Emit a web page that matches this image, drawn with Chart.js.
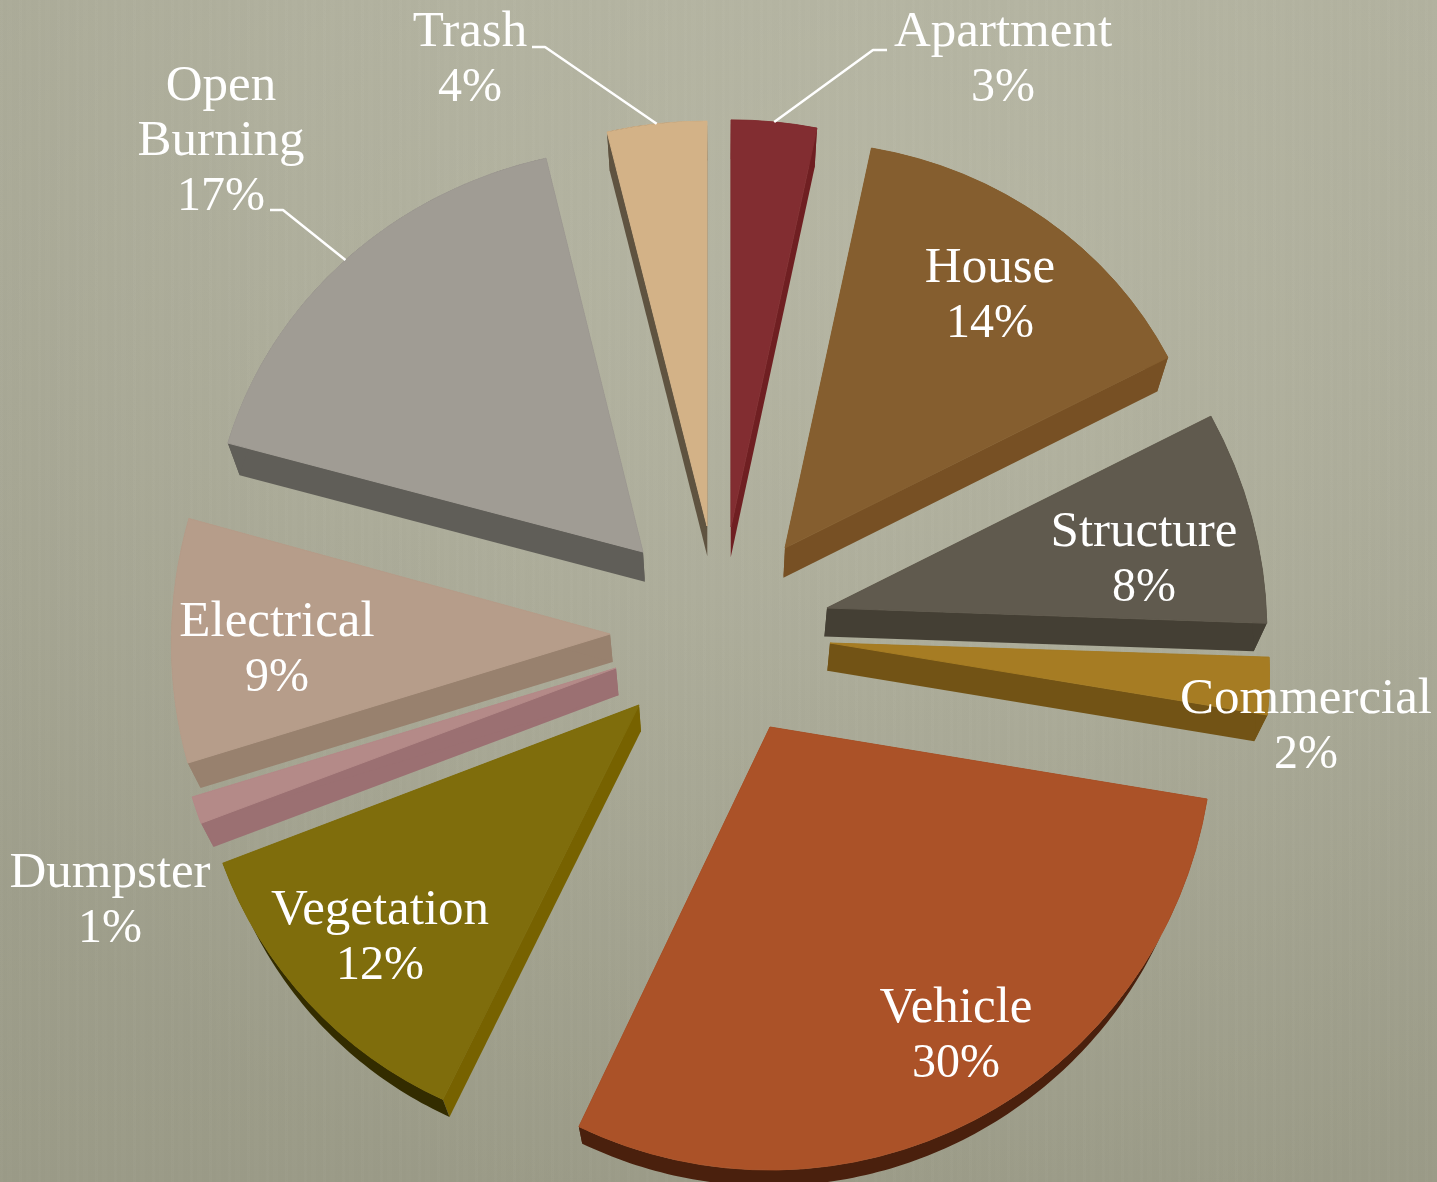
<!DOCTYPE html>
<html>
<head>
<meta charset="utf-8">
<title>Fire types</title>
<script src="https://cdn.jsdelivr.net/npm/chart.js@4"></script>
<style>
html,body{margin:0;padding:0;width:1437px;height:1182px;overflow:hidden}
body{
  background:
    repeating-linear-gradient(90deg,rgba(255,255,255,.009) 0 3px,rgba(0,0,0,.007) 3px 7px,rgba(255,255,255,.005) 7px 12px,rgba(0,0,0,.008) 12px 19px),
    radial-gradient(ellipse 1100px 1000px at 62% 22%,rgba(188,188,170,.55) 0%,rgba(175,175,158,.25) 55%,rgba(150,150,132,.35) 100%),
    linear-gradient(180deg,#b3b3a0 0%,#aaaa97 50%,#9e9e8a 100%);
}
canvas{display:block}
</style>
</head>
<body>
<canvas id="c" width="1437" height="1182"></canvas>
<script>
// Data, clockwise from 12 o'clock
const categories = ['Apartment','House','Structure','Commercial','Vehicle','Vegetation','Dumpster','Electrical','Open Burning','Trash'];
const sliceValues = [3.2,14.4,7.8,2.2,29.5,12.2,1.0,8.9,17.0,3.8];

// Styling
const topColors  = ['#822d31','#855e2f','#605a4e','#a67c23','#ab5228','#7f6d0c','#b48a88','#b69d8a','#a09c94','#d3b287'];
const sideColors = ['#6f1f22','#775024','#443f34','#725315','#4a200d','#776200','#9b7072','#98816e','#605e58','#5f5340'];
const rimColors  = ['#6f1f22','#775024','#443f34','#725315','#4a200d','#332c00','#9b7072','#98816e','#605e58','#5f5340'];
// Explosion of each slice away from the pie centre
const explodeX = [11,65,107,110,50,-81,-104,-110,-77,-13];
const explodeY = [-113,-92,-32,3,87,65,28,-6,-88,-114];
// Perspective foreshortening of each slice's top face: [xx, xy, yx, yy]
const tilt = [
  [.972,0,0,.919],[.966,-.0023,-.0212,.917],[.992,.045,.0095,.984],[.99,.065,.008,.951],[1,0,0,1],
  [.998,-.0135,-.0144,.98],[1,0,0,1],[.99,-.02,0,1],[.974,-.0117,.008,.913],[.954,0,.006,.914]
];
// Label placement: [centre x, first baseline y]
const labelPlace = [[1003,46],[990,282],[1144,546],[1306,713],[956,1022],[380,924],[110,887],[277,636],[221,100],[470,46]];
// Leader elbows: slice index -> [text-side x, elbow x, y]
const leaders = {0:[887,873,50],8:[270,283,210],9:[532,545,47]};
const NAME_FONT = '51px "Liberation Serif", serif';
const PCT_FONT = '48px "Liberation Serif", serif';
const LINE = 55;
const PERSP_X = 0.024, PERSP_Y = 0.0222, DEPTH_Y = 42;

// Local point of slice i (relative to its apex) -> canvas, at depth t (0 top face, 1 bottom face)
const project = (a, i, vx, vy, t, cx) => {
  const m = tilt[i];
  const x = a.x + explodeX[i] + m[0] * vx + m[1] * vy;
  const y = a.y + explodeY[i] + m[2] * vx + m[3] * vy;
  return [x * (1 - PERSP_X * t) + cx * PERSP_X * t, y * (1 - PERSP_Y * t) + DEPTH_Y * t];
};
const fillPoly = (ctx, pts, col) => {
  ctx.beginPath();
  pts.forEach((p, n) => n ? ctx.lineTo(p[0], p[1]) : ctx.moveTo(p[0], p[1]));
  ctx.closePath();
  ctx.fillStyle = col;
  ctx.fill();
};

const explodedPie = {
  id: 'explodedPie',
  beforeDatasetDraw(chart, args) {
    const ctx = chart.ctx;
    const arcs = chart.getDatasetMeta(args.index).data;
    const cx = arcs[0].x;
    arcs.forEach((a, i) => {
      const R = a.outerRadius;
      const rim = ang => [R * Math.cos(ang), R * Math.sin(ang)];
      // radial walls
      [a.startAngle, a.endAngle].forEach(ang => {
        const [vx, vy] = rim(ang);
        fillPoly(ctx, [project(a, i, 0, 0, 0, cx), project(a, i, vx, vy, 0, cx),
                       project(a, i, vx, vy, 1, cx), project(a, i, 0, 0, 1, cx)], sideColors[i]);
      });
      // outer wall: top arc forward, bottom arc back
      const steps = Math.ceil((a.endAngle - a.startAngle) / .015);
      const front = [], back = [];
      for (let s = 0; s <= steps; s++) {
        const [vx, vy] = rim(a.startAngle + (a.endAngle - a.startAngle) * s / steps);
        front.push(project(a, i, vx, vy, 0, cx));
        back.unshift(project(a, i, vx, vy, 1, cx));
      }
      fillPoly(ctx, front.concat(back), rimColors[i]);
      // top face, drawn by the library's arc element
      const m = tilt[i];
      ctx.save();
      ctx.translate(a.x + explodeX[i], a.y + explodeY[i]);
      ctx.transform(m[0], m[2], m[1], m[3], 0, 0);
      ctx.translate(-a.x, -a.y);
      a.draw(ctx);
      ctx.restore();
    });
    return false;
  },
  afterDraw(chart) {
    const ctx = chart.ctx;
    const arcs = chart.getDatasetMeta(0).data;
    ctx.save();
    ctx.strokeStyle = '#ffffff';
    ctx.lineWidth = 2.5;
    ctx.lineJoin = 'round';
    Object.keys(leaders).forEach(k => {
      const i = +k, a = arcs[i], [x0, x1, y] = leaders[k];
      const mid = (a.startAngle + a.endAngle) / 2;
      const e = project(a, i, Math.cos(mid) * a.outerRadius, Math.sin(mid) * a.outerRadius, 0, a.x);
      ctx.beginPath();
      ctx.moveTo(x0, y);
      ctx.lineTo(x1, y);
      ctx.lineTo(e[0], e[1]);
      ctx.stroke();
    });
    ctx.fillStyle = '#ffffff';
    ctx.textAlign = 'center';
    ctx.textBaseline = 'alphabetic';
    categories.forEach((name, i) => {
      const [x, y] = labelPlace[i];
      const words = name.split(' ');
      ctx.font = NAME_FONT;
      words.forEach((s, n) => ctx.fillText(s, x, y + n * LINE));
      ctx.font = PCT_FONT;
      ctx.fillText(Math.round(sliceValues[i]) + '%', x, y + words.length * LINE);
    });
    ctx.restore();
  }
};

new Chart(document.getElementById('c'), {
  type: 'pie',
  data: {
    labels: categories,
    datasets: [{ data: sliceValues, backgroundColor: topColors, borderColor: topColors, borderWidth: 1 }]
  },
  options: {
    responsive: false,
    animation: false,
    radius: 443,
    layout: { padding: { left: 3, top: 98, right: 0, bottom: 0 } },
    plugins: { legend: { display: false }, tooltip: { enabled: false } }
  },
  plugins: [explodedPie]
});
</script>
</body>
</html>
